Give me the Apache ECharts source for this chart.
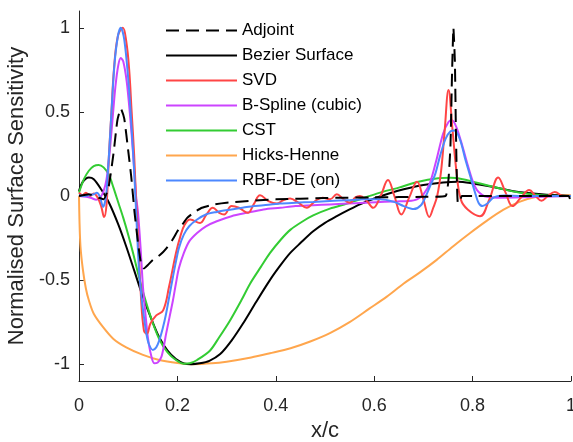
<!DOCTYPE html>
<html>
<head>
<meta charset="utf-8">
<script src="https://cdn.jsdelivr.net/npm/echarts@6/dist/echarts.min.js"></script>
<style>html,body{margin:0;padding:0;background:#fff}#c{width:573px;height:442px}</style>
</head>
<body>
<div id="c"></div>
<script>
const seriesNames = ['Adjoint', 'Bezier Surface', 'SVD', 'B-Spline (cubic)', 'CST', 'Hicks-Henne', 'RBF-DE (on)'];
const xTicks = [0, 0.2, 0.4, 0.6, 0.8, 1];
const yTicks = [-1, -0.5, 0, 0.5, 1];

const adjoint = [[0,0],[0.02,0.01],[0.04,-0.01],[0.05,-0.02],[0.06,0.05],[0.07,0.25],[0.078,0.45],[0.085,0.52],[0.092,0.46],[0.1,0.27],[0.106,0.12],[0.113,-0.1],[0.12,-0.28],[0.126,-0.4],[0.132,-0.43],[0.14,-0.41],[0.15,-0.38],[0.165,-0.35],[0.178,-0.31],[0.19,-0.26],[0.2,-0.21],[0.21,-0.17],[0.22,-0.13],[0.235,-0.095],[0.25,-0.07],[0.275,-0.05],[0.3,-0.04],[0.35,-0.028],[0.4,-0.02],[0.5,-0.012],[0.6,-0.008],[0.7,-0.005],[0.745,0],[0.751,0.1],[0.755,0.3],[0.758,0.7],[0.761,1.0],[0.764,0.8],[0.766,0.4],[0.768,0.1],[0.77,-0.04],[0.774,-0.04],[0.778,0],[0.8,0],[0.9,0],[0.995,0],[1,-0.05]];

const bezier = [[0,0.03],[0.008,0.085],[0.02,0.11],[0.03,0.1],[0.045,0.04],[0.061,-0.04],[0.08,-0.17],[0.096,-0.3],[0.113,-0.45],[0.13,-0.6],[0.147,-0.73],[0.163,-0.84],[0.18,-0.92],[0.197,-0.97],[0.213,-0.995],[0.228,-1.0],[0.245,-0.995],[0.265,-0.98],[0.287,-0.94],[0.31,-0.86],[0.333,-0.76],[0.36,-0.63],[0.388,-0.5],[0.41,-0.41],[0.429,-0.34],[0.45,-0.28],[0.476,-0.21],[0.5,-0.16],[0.524,-0.12],[0.55,-0.08],[0.571,-0.05],[0.6,-0.015],[0.63,0.015],[0.66,0.04],[0.7,0.065],[0.74,0.08],[0.77,0.085],[0.8,0.075],[0.84,0.055],[0.88,0.03],[0.94,0.01],[1,0]];

const svd = [[0,0.02],[0.007,0.005],[0.014,0.02],[0.022,0.0],[0.03,0.015],[0.038,-0.01],[0.045,-0.06],[0.051,-0.125],[0.056,-0.05],[0.061,0.25],[0.066,0.5],[0.071,0.75],[0.079,0.95],[0.089,1.0],[0.096,0.92],[0.102,0.75],[0.107,0.5],[0.112,0.25],[0.116,-0.02],[0.12,-0.24],[0.126,-0.6],[0.132,-0.8],[0.138,-0.82],[0.145,-0.76],[0.157,-0.71],[0.171,-0.68],[0.183,-0.54],[0.197,-0.34],[0.206,-0.24],[0.215,-0.17],[0.226,-0.14],[0.246,-0.16],[0.259,-0.11],[0.272,-0.07],[0.285,-0.1],[0.295,-0.11],[0.31,-0.06],[0.325,-0.07],[0.343,-0.1],[0.355,-0.05],[0.368,0.005],[0.385,-0.03],[0.402,-0.045],[0.415,-0.025],[0.429,-0.015],[0.446,-0.04],[0.463,-0.07],[0.48,-0.03],[0.495,-0.01],[0.51,-0.02],[0.524,0.01],[0.538,-0.02],[0.551,-0.04],[0.561,-0.01],[0.571,0.0],[0.585,-0.03],[0.598,-0.07],[0.613,0.0],[0.628,0.095],[0.641,0.0],[0.655,-0.11],[0.671,-0.01],[0.687,0.085],[0.7,-0.02],[0.712,-0.125],[0.72,-0.07],[0.728,0.0],[0.736,0.15],[0.743,0.38],[0.751,0.63],[0.759,0.4],[0.767,0.15],[0.776,-0.02],[0.79,-0.08],[0.815,-0.12],[0.834,-0.02],[0.852,0.11],[0.867,0.02],[0.881,-0.06],[0.898,-0.01],[0.915,0.035],[0.928,0.0],[0.94,-0.028],[0.953,0.0],[0.967,0.024],[0.985,0.0],[1,0]];

const bspline = [[0,0.0],[0.015,-0.005],[0.025,-0.012],[0.035,-0.022],[0.043,-0.01],[0.05,0.03],[0.056,0.1],[0.062,0.25],[0.068,0.45],[0.074,0.65],[0.08,0.78],[0.085,0.82],[0.09,0.8],[0.097,0.68],[0.104,0.47],[0.11,0.25],[0.116,0.0],[0.12,-0.1],[0.125,-0.3],[0.13,-0.54],[0.135,-0.7],[0.14,-0.84],[0.146,-0.94],[0.153,-0.995],[0.16,-0.99],[0.167,-0.96],[0.172,-0.9],[0.177,-0.82],[0.184,-0.72],[0.191,-0.62],[0.197,-0.52],[0.203,-0.43],[0.213,-0.34],[0.224,-0.27],[0.24,-0.22],[0.258,-0.18],[0.28,-0.15],[0.31,-0.12],[0.341,-0.1],[0.375,-0.08],[0.409,-0.07],[0.44,-0.06],[0.476,-0.055],[0.51,-0.05],[0.545,-0.045],[0.58,-0.04],[0.612,-0.035],[0.646,-0.032],[0.67,-0.03],[0.687,-0.02],[0.7,0.01],[0.713,0.075],[0.727,0.22],[0.74,0.37],[0.751,0.44],[0.758,0.45],[0.767,0.41],[0.779,0.3],[0.789,0.195],[0.8,0.09],[0.809,0.035],[0.82,0.005],[0.829,-0.005],[0.85,-0.01],[0.9,-0.008],[1,0]];

const cst = [[0,0.02],[0.01,0.1],[0.02,0.15],[0.03,0.178],[0.04,0.185],[0.05,0.17],[0.061,0.125],[0.07,0.05],[0.08,-0.04],[0.09,-0.13],[0.1,-0.23],[0.11,-0.34],[0.12,-0.46],[0.13,-0.57],[0.147,-0.73],[0.163,-0.85],[0.18,-0.93],[0.197,-0.975],[0.213,-0.997],[0.225,-0.995],[0.24,-0.975],[0.266,-0.92],[0.285,-0.84],[0.307,-0.74],[0.33,-0.62],[0.348,-0.52],[0.37,-0.42],[0.388,-0.34],[0.41,-0.26],[0.43,-0.2],[0.455,-0.15],[0.476,-0.115],[0.51,-0.075],[0.545,-0.045],[0.58,-0.01],[0.612,0.02],[0.65,0.05],[0.69,0.085],[0.73,0.105],[0.755,0.108],[0.78,0.1],[0.8,0.085],[0.835,0.06],[0.87,0.035],[0.9,0.018],[0.94,0.005],[1,0]];

const hicksHenne = [[0,0],[0.001,-0.15],[0.003,-0.3],[0.008,-0.44],[0.014,-0.55],[0.02,-0.62],[0.03,-0.7],[0.049,-0.78],[0.07,-0.85],[0.096,-0.9],[0.13,-0.945],[0.163,-0.975],[0.2,-0.993],[0.232,-1.0],[0.27,-0.995],[0.3,-0.985],[0.35,-0.96],[0.388,-0.935],[0.43,-0.905],[0.47,-0.865],[0.51,-0.815],[0.55,-0.75],[0.59,-0.67],[0.625,-0.6],[0.66,-0.52],[0.695,-0.45],[0.727,-0.38],[0.76,-0.3],[0.795,-0.22],[0.83,-0.145],[0.862,-0.083],[0.895,-0.035],[0.93,-0.005],[0.96,0.005],[1,0.005]];

const rbfDe = [[0,0.005],[0.01,0.0],[0.02,0.005],[0.03,0.01],[0.036,0.02],[0.042,0.0],[0.049,-0.065],[0.055,0.0],[0.06,0.2],[0.066,0.5],[0.072,0.78],[0.079,0.95],[0.085,1.0],[0.092,0.93],[0.1,0.7],[0.106,0.45],[0.112,0.155],[0.117,-0.15],[0.122,-0.44],[0.127,-0.6],[0.132,-0.72],[0.137,-0.82],[0.142,-0.88],[0.15,-0.915],[0.157,-0.9],[0.163,-0.86],[0.17,-0.79],[0.177,-0.7],[0.184,-0.59],[0.191,-0.48],[0.197,-0.39],[0.203,-0.31],[0.213,-0.23],[0.224,-0.18],[0.24,-0.14],[0.258,-0.11],[0.28,-0.095],[0.31,-0.08],[0.341,-0.065],[0.375,-0.055],[0.409,-0.045],[0.44,-0.04],[0.476,-0.035],[0.51,-0.03],[0.545,-0.025],[0.58,-0.02],[0.612,-0.02],[0.64,-0.035],[0.66,-0.06],[0.68,-0.078],[0.695,-0.055],[0.705,0.0],[0.713,0.055],[0.724,0.13],[0.734,0.24],[0.745,0.34],[0.755,0.385],[0.764,0.39],[0.775,0.33],[0.785,0.22],[0.795,0.12],[0.805,0.02],[0.812,-0.04],[0.82,-0.06],[0.83,-0.045],[0.84,-0.015],[0.85,-0.002],[0.865,0.003],[0.9,0],[1,0]];

const FONT = 'Liberation Sans, Arial, Helvetica, sans-serif';
const AX = '#262626';

const chart = echarts.init(document.getElementById('c'), null, {renderer: 'canvas'});

function line(name, data, color, opts) {
  return Object.assign({
    name: name, type: 'line', data: data, showSymbol: false, symbol: 'none',
    smooth: 0.3, clip: true,
    lineStyle: {color: color, width: 2},
    itemStyle: {color: color},
    emphasis: {disabled: true}
  }, opts || {});
}

chart.setOption({
  animation: false,
  backgroundColor: '#fff',
  grid: {left: 79, right: 2, top: 11, bottom: 61, containLabel: false, outerBoundsMode: 'none'},
  legend: {
    data: seriesNames,
    orient: 'vertical', left: 160, top: 17,
    itemWidth: 71, itemHeight: 17, itemGap: 8,
    itemStyle: {opacity: 0},
    textStyle: {fontFamily: FONT, fontSize: 17, color: '#000'},
    selectedMode: false
  },
  xAxis: {
    type: 'value', min: 0, max: 1, interval: 0.2,
    name: 'x/c', nameLocation: 'middle', nameGap: 39,
    nameTextStyle: {fontFamily: FONT, fontSize: 22, color: AX},
    axisLine: {show: true, onZero: false, lineStyle: {color: AX, width: 1}},
    axisTick: {show: true, inside: true, length: 5, lineStyle: {color: AX}},
    axisLabel: {fontFamily: FONT, fontSize: 18, color: AX, margin: 16},
    splitLine: {show: false}
  },
  yAxis: {
    type: 'value', min: -1.1, max: 1.1,
    name: 'Normalised Surface Sensitivity', nameLocation: 'middle', nameGap: 49,
    nameTextStyle: {fontFamily: FONT, fontSize: 22, color: AX},
    axisLine: {show: true, onZero: false, lineStyle: {color: AX, width: 1}},
    axisTick: {show: true, inside: true, length: 5, lineStyle: {color: AX}, customValues: yTicks},
    axisLabel: {fontFamily: FONT, fontSize: 18, color: AX, margin: 9, customValues: yTicks},
    splitLine: {show: false}
  },
  series: [
    line('Hicks-Henne', hicksHenne, '#ffa64d'),
    line('Bezier Surface', bezier, '#000000'),
    line('CST', cst, '#33cc33'),
    line('B-Spline (cubic)', bspline, '#cc44ff'),
    line('SVD', svd, '#ff4545', {smooth: 0.4}),
    line('RBF-DE (on)', rbfDe, '#4d88ff'),
    line('Adjoint', adjoint, '#000000', {smooth: 0.15, lineStyle: {color: '#000', width: 2, type: [13, 7]}})
  ]
});
</script>
</body>
</html>
